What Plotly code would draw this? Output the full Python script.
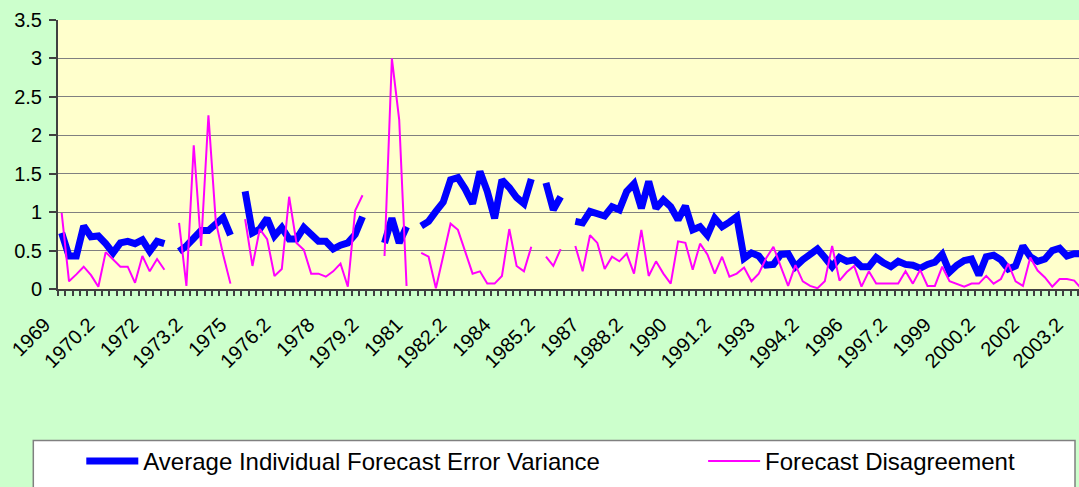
import plotly.graph_objects as go

# Quarterly categories, 1969Q1 onward (140 periods; the last one lies just past the visible edge)
categories = [f"{1969 + i // 4}Q{i % 4 + 1}" for i in range(140)]

# Labels shown on every 6th category
tick_labels = ["1969", "1970.2", "1972", "1973.2", "1975", "1976.2", "1978", "1979.2",
               "1981", "1982.2", "1984", "1985.2", "1987", "1988.2", "1990", "1991.2",
               "1993", "1994.2", "1996", "1997.2", "1999", "2000.2", "2002", "2003.2"]

avg_error_variance = [
    0.73, 0.43, 0.43, 0.82, 0.68, 0.69, 0.59, 0.47, 0.60, 0.62, 0.59, 0.64, 0.49, 0.62, 0.59,
    None,
    0.49, 0.56, 0.66, 0.76, 0.76, 0.85, 0.93, 0.70,
    None,
    1.27, 0.73, 0.78, 0.92, 0.69, 0.80, 0.65, 0.65, 0.80, 0.72, 0.62, 0.62, 0.52, 0.57, 0.60, 0.71, 0.94,
    None, None,
    0.60, 0.92, 0.60, 0.81,
    None,
    0.82, 0.88, 1.01, 1.13, 1.42, 1.45, 1.30, 1.11, 1.53, 1.27, 0.92, 1.42, 1.32, 1.19, 1.11, 1.43,
    None,
    1.38, 1.03, 1.20,
    None,
    0.88, 0.86, 1.01, 0.99, 0.95, 1.07, 1.03, 1.27, 1.37, 1.05, 1.40, 1.05, 1.16, 1.07, 0.90, 1.08,
    0.77, 0.81, 0.70, 0.92, 0.81, 0.87, 0.94, 0.40, 0.47, 0.43, 0.31, 0.32, 0.45, 0.46, 0.29, 0.38,
    0.46, 0.52,
    0.41, 0.29, 0.41, 0.36, 0.38, 0.29, 0.29, 0.41, 0.34, 0.29, 0.36, 0.32, 0.31, 0.27, 0.32, 0.35,
    0.45, 0.22, 0.31, 0.37, 0.39, 0.18, 0.42, 0.44, 0.38, 0.26, 0.30, 0.56, 0.42, 0.36, 0.39, 0.50,
    0.53, 0.43, 0.46, 0.46,
]

forecast_disagreement = [
    0.99, 0.10, 0.19, 0.29, 0.18, 0.03, 0.48, 0.39, 0.29, 0.29, 0.08, 0.43, 0.23, 0.39, 0.25,
    None,
    0.86, 0.04, 1.87, 0.56, 2.26, 0.88, 0.45, 0.07,
    None,
    0.91, 0.30, 0.78, 0.65, 0.17, 0.26, 1.20, 0.60, 0.51, 0.20, 0.20, 0.16, 0.23, 0.33, 0.03, 1.02, 1.22,
    None, None,
    0.43, 3.00, 2.20, 0.04,
    None,
    0.47, 0.42, 0.01, 0.43, 0.85, 0.77, 0.48, 0.20, 0.23, 0.07, 0.07, 0.17, 0.78, 0.30, 0.23, 0.55,
    None,
    0.42, 0.30, 0.52,
    None,
    0.56, 0.23, 0.70, 0.60, 0.26, 0.42, 0.36, 0.46, 0.20, 0.77, 0.17, 0.36, 0.20, 0.07, 0.62, 0.60,
    0.25, 0.59, 0.45, 0.20, 0.42, 0.16, 0.20, 0.28, 0.10, 0.20, 0.40, 0.55, 0.29, 0.04, 0.31, 0.10,
    0.04, 0.01,
    0.10, 0.56, 0.11, 0.22, 0.30, 0.03, 0.23, 0.07, 0.07, 0.07, 0.07, 0.23, 0.07, 0.25, 0.04, 0.04,
    0.29, 0.10, 0.06, 0.03, 0.07, 0.07, 0.17, 0.07, 0.13, 0.33, 0.10, 0.04, 0.41, 0.24, 0.15, 0.03,
    0.13, 0.13, 0.11, 0.00,
]

W, H = 1079, 487
ML, MT, MB = 57.7, 20, 197.7
plot_w = W - ML
plot_h = H - MT - MB

def px_x(x):
    return (x - ML) / plot_w

def px_y(y):
    return (H - MB - y) / plot_h

FONT = "Liberation Sans, Arial, sans-serif"

fig = go.Figure()
fig.add_trace(go.Scatter(
    x=categories, y=avg_error_variance, mode="lines",
    name="Average Individual Forecast Error Variance",
    line=dict(color="#0000FF", width=7), connectgaps=False, legend="legend",
))
fig.add_trace(go.Scatter(
    x=categories, y=forecast_disagreement, mode="lines",
    name="Forecast Disagreement",
    line=dict(color="#FF00FF", width=2), connectgaps=False, legend="legend2",
))

ticktext = [tick_labels[i // 6] if i % 6 == 0 and i // 6 < len(tick_labels) else ""
            for i in range(len(categories))]

legend_common = dict(
    orientation="h", xanchor="left", yanchor="middle",
    bgcolor="rgba(0,0,0,0)", borderwidth=0, itemwidth=52,
    font=dict(family=FONT, size=24, color="#000000"),
)

fig.update_layout(
    width=W, height=H,
    margin=dict(l=ML, r=0, t=MT, b=MB, pad=0, autoexpand=False),
    paper_bgcolor="#CCFFCC",
    plot_bgcolor="#FFFFCC",
    font=dict(family=FONT, size=20, color="#000000"),
    showlegend=True,
    legend=dict(x=px_x(81), y=px_y(462), **legend_common),
    legend2=dict(x=px_x(703), y=px_y(462), **legend_common),
    xaxis=dict(
        type="category", categoryorder="array", categoryarray=categories,
        range=[-0.5, -0.5 + plot_w / 7.34],
        tickmode="array", tickvals=categories, ticktext=ticktext,
        tickson="boundaries", ticks="outside", ticklen=5, tickwidth=1.5, tickcolor="#404040",
        tickangle=-45, ticklabelshift=-17, ticklabelstandoff=14,
        showgrid=False, showline=True, linecolor="#404040", linewidth=2,
        tickfont=dict(family=FONT, size=20, color="#000000"),
        zeroline=False, automargin=False,
    ),
    yaxis=dict(
        range=[0, 3.5], dtick=0.5, tick0=0,
        ticks="outside", ticklen=7, tickwidth=1.5, tickcolor="#404040",
        showgrid=True, gridcolor="#808080", gridwidth=1.3,
        showline=True, linecolor="#404040", linewidth=2,
        zeroline=False, automargin=False, ticklabelstandoff=3,
        tickfont=dict(family=FONT, size=20, color="#000000"),
    ),
    shapes=[dict(
        type="rect", xref="paper", yref="paper",
        x0=px_x(33), x1=px_x(1075), y0=px_y(441), y1=px_y(520),
        fillcolor="#FFFFFF", line=dict(color="#808080", width=1.5), layer="below",
    )],
)

fig.write_html(
    "out.html",
    config={"displayModeBar": False},
    post_script="document.body.style.margin='0';document.body.style.overflow='hidden';",
)
